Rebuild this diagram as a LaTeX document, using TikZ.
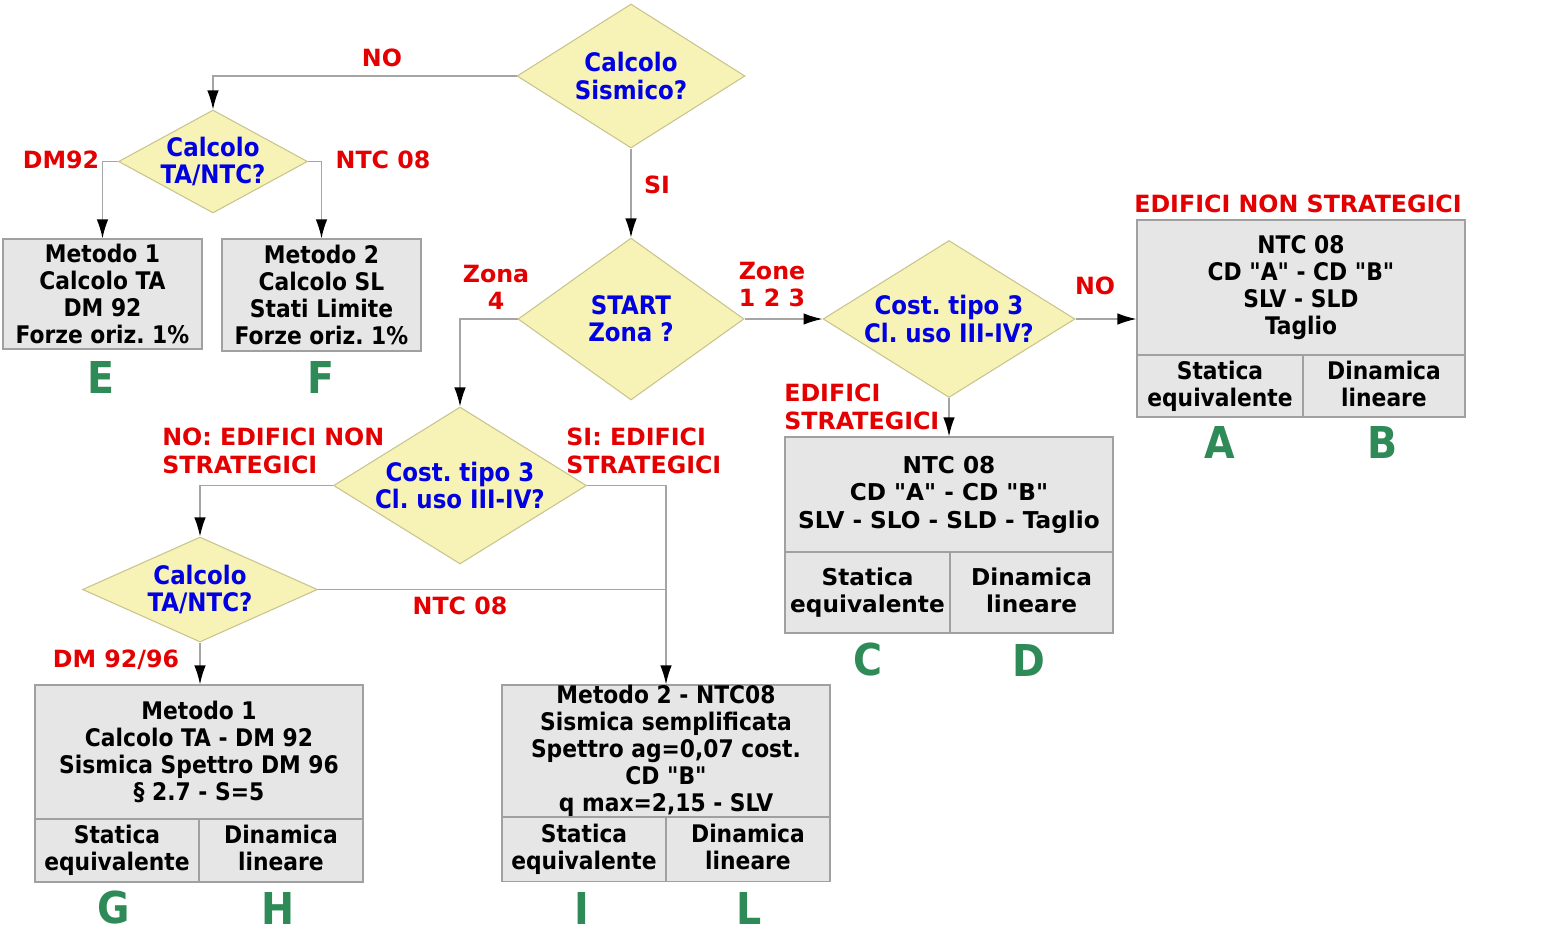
\documentclass[tikz,border=0pt]{standalone}
\usepackage{fontspec}
\setmainfont{DejaVu Sans Condensed}
\newfontfamily\widefont{DejaVu Sans}
\usetikzlibrary{shapes.geometric,arrows.meta}
\frenchspacing

\definecolor{qfill}{RGB}{247,243,183}
\definecolor{qline}{RGB}{200,196,140}
\definecolor{bfill}{RGB}{230,230,230}
\definecolor{bline}{RGB}{160,160,160}
\definecolor{cline}{RGB}{165,165,165}
\definecolor{qblue}{RGB}{0,0,225}
\definecolor{lred}{RGB}{228,0,0}
\definecolor{lgreen}{RGB}{46,139,87}

\newcommand{\dq}{\textquotedbl}

\tikzstyle{decision}=[diamond,draw=qline,fill=qfill,inner sep=0pt,line width=0.6pt]
\tikzstyle{qtext}=[text=qblue,align=center,inner sep=0pt,font=\bfseries\fontsize{14.5}{15.5}\selectfont]
\tikzstyle{block}=[rectangle,draw=bline,fill=bfill,inner sep=0pt,align=center,line width=0.7pt,font=\bfseries\fontsize{13.8}{15.4}\selectfont]
\tikzstyle{wblock}=[block,font=\widefont\bfseries\fontsize{13.2}{15.6}\selectfont]
\tikzstyle{tag}=[text=lred,inner sep=0pt,align=center,font=\widefont\bfseries\fontsize{13.5}{15.6}\selectfont]
\tikzstyle{letter}=[text=lgreen,inner sep=0pt,font=\bfseries\fontsize{25}{25}\selectfont]
\tikzstyle{line}=[draw=cline,line width=0.8pt]
\tikzstyle{arrow}=[line,-{Latex[length=0.38cm,width=0.23cm,color=black]}]

\begin{document}
\begin{tikzpicture}[x=0.02cm,y=-0.02cm]
		\useasboundingbox (0,0) rectangle (1559,946);
		
		% questions
		\node[decision,minimum width=4.56cm,minimum height=2.88cm] (sismico) at (631,76) {};
		\node[qtext] (sismico-t) at (sismico) {Calcolo\\Sismico?};
		\node[decision,minimum width=3.78cm,minimum height=2.06cm] (tantc) at (213,161.5) {};
		\node[qtext] (tantc-t) at (tantc) {Calcolo\\TA/NTC?};
		\node[decision,minimum width=4.52cm,minimum height=3.24cm] (start) at (631,319) {};
		\node[qtext] (start-t) at (start) {START\\Zona ?};
		\node[decision,minimum width=5.04cm,minimum height=3.14cm] (costr) at (949,319) {};
		\node[qtext] (costr-t) at (costr) {Cost. tipo 3\\Cl. uso III-IV?};
		\node[decision,minimum width=5.06cm,minimum height=3.14cm] (costl) at (460,485.5) {};
		\node[qtext] (costl-t) at (costl) {Cost. tipo 3\\Cl. uso III-IV?};
		\node[decision,minimum width=4.7cm,minimum height=2.1cm] (tantcb) at (200,589.5) {};
		\node[qtext] (tantcb-t) at (tantcb) {Calcolo\\TA/NTC?};
		
		% results
		\node[block,minimum width=3.98cm,minimum height=2.2cm] (boxE) at (102.5,294) {Metodo 1\\Calcolo TA\\DM 92\\Forze oriz. 1\%};
		\node[block,minimum width=3.98cm,minimum height=2.24cm] (boxF) at (321.5,295) {Metodo 2\\Calcolo SL\\Stati Limite\\Forze oriz. 1\%};
		
		\node[block,minimum width=6.56cm,minimum height=2.7cm] (boxAB) at (1301,287.5) {NTC 08\\CD \dq A\dq\ - CD \dq B\dq\\SLV - SLD\\Taglio};
		\node[block,minimum width=3.32cm,minimum height=1.24cm] (cellA) at (1220,386) {Statica\\equivalente};
		\node[block,minimum width=3.24cm,minimum height=1.24cm] (cellB) at (1384,386) {Dinamica\\lineare\vphantom{q}};
		
		\node[wblock,minimum width=6.56cm,minimum height=2.3cm] (boxCD) at (949,494.5) {NTC 08\\CD \dq A\dq\ - CD \dq B\dq\\SLV - SLO - SLD - Taglio};
		\node[wblock,minimum width=3.3cm,minimum height=1.62cm] (cellC) at (867.5,592.5) {Statica\\equivalente};
		\node[wblock,minimum width=3.26cm,minimum height=1.62cm] (cellD) at (1031.5,592.5) {Dinamica\\lineare\vphantom{q}};
		
		\node[block,minimum width=6.56cm,minimum height=2.68cm] (boxGH) at (199,752) {Metodo 1\\Calcolo TA - DM 92\\Sismica Spettro DM 96\\\S\ 2.7 - S=5};
		\node[block,minimum width=3.28cm,minimum height=1.26cm] (cellG) at (117,850.5) {Statica\\equivalente};
		\node[block,minimum width=3.28cm,minimum height=1.26cm] (cellH) at (281,850.5) {Dinamica\\lineare\vphantom{q}};
		
		\node[block,minimum width=6.56cm,minimum height=2.64cm] (boxIL) at (666,751) {Metodo 2 - NTC08\\Sismica semplificata\\Spettro ag=0,07 cost.\\CD \dq B\dq\\q max=2,15 - SLV};
		\node[block,minimum width=3.28cm,minimum height=1.28cm] (cellI) at (584,849.5) {Statica\\equivalente};
		\node[block,minimum width=3.28cm,minimum height=1.28cm] (cellL) at (748,849.5) {Dinamica\\lineare\vphantom{q}};
		
		% connectors
		\draw[arrow] (sismico.west) -| (tantc.north);
		\draw[arrow] (sismico.south) -- (start.north);
		\draw[arrow] (tantc.west) -| (boxE.north);
		\draw[arrow] (tantc.east) -| (boxF.north);
		\draw[arrow] (start.west) -| (costl.north);
		\draw[arrow] (start.east) -- (costr.west);
		\draw[arrow] (costr.east) -- (costr.east -| boxAB.west);
		\draw[arrow] (costr.south) -- (costr.south |- boxCD.north);
		\draw[arrow] (costl.west) -| (tantcb.north);
		\draw[arrow] (costl.east) -| (boxIL.north);
		\draw[line] (tantcb.east) -- (tantcb.east -| boxIL.north);
		\draw[arrow] (tantcb.south) -- (tantcb.south |- boxGH.north);
		
		% branch labels
		\node[tag] (l-no1) at (382,58) {NO};
		\node[tag] (l-si1) at (657,185) {SI};
		\node[tag] (l-dm92) at (61,160) {DM92};
		\node[tag] (l-ntc1) at (383,160) {NTC 08};
		\node[tag] (l-z4) at (496,287.5) {Zona\\4};
		\node[tag] (l-z123) at (772,284.5) {Zone\\1 2 3};
		\node[tag] (l-no2) at (1095,286) {NO};
		\node[tag] (l-nonstr) at (1298,204) {EDIFICI NON STRATEGICI};
		\node[tag,anchor=west,align=left] (l-str) at (784,407) {EDIFICI\\STRATEGICI};
		\node[tag,anchor=west,align=left] (l-nostr) at (162,451) {NO: EDIFICI NON\\STRATEGICI};
		\node[tag,anchor=west,align=left] (l-sistr) at (566,451) {SI: EDIFICI\\STRATEGICI};
		\node[tag] (l-ntc2) at (460,606) {NTC 08};
		\node[tag] (l-dm9296) at (116,660) {DM 92/96};
		
		% letters
		\node[letter] (E) at (101,377) {E};
		\node[letter] (F) at (321,377) {F};
		\node[letter] (A) at (1220,442) {A};
		\node[letter] (B) at (1383,442) {B};
		\node[letter] (C) at (868,660) {C};
		\node[letter] (D) at (1029,660) {D};
		\node[letter] (G) at (114,908) {G};
		\node[letter] (H) at (278,908) {H};
		\node[letter] (I) at (582,908) {I};
		\node[letter] (L) at (749,908) {L};
\end{tikzpicture}
\end{document}
